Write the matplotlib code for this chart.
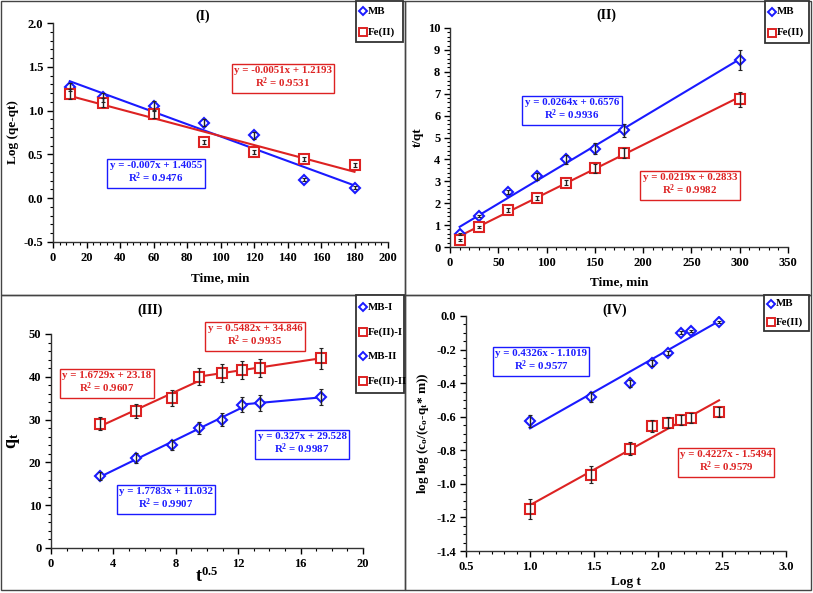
import matplotlib
matplotlib.use("Agg")
import matplotlib.pyplot as plt
from matplotlib.ticker import MultipleLocator, FormatStrFormatter
from matplotlib.lines import Line2D
from matplotlib.patches import Rectangle
import numpy as np

plt.rcParams['font.family'] = ['Liberation Serif', 'DejaVu Serif']
plt.rcParams['font.weight'] = 'bold'
plt.rcParams['axes.labelweight'] = 'bold'
plt.rcParams['mathtext.fontset'] = 'custom'
plt.rcParams['mathtext.rm'] = 'Liberation Serif:bold'
plt.rcParams['mathtext.it'] = 'Liberation Serif:bold'
plt.rcParams['mathtext.bf'] = 'Liberation Serif:bold'

BLUE = '#1a1aff'
RED = '#dd2222'

# ---------------- data ----------------
# Panel I: pseudo-first order
t1 = [10, 30, 60, 90, 120, 150, 180]
mb1 = [1.27, 1.15, 1.05, 0.86, 0.72, 0.21, 0.12]
mb1_err = [0.05, 0.05, 0.06, 0.04, 0.04, 0.015, 0.015]
fe1 = [1.19, 1.09, 0.96, 0.64, 0.53, 0.45, 0.38]
fe1_err = [0.06, 0.05, 0.05, 0.02, 0.02, 0.02, 0.02]
fit1_mb = (-0.007, 1.4055)
fit1_fe = (-0.0051, 1.2193)

# Panel II: pseudo-second order
t2 = [10, 30, 60, 90, 120, 150, 180, 300]
mb2 = [0.60, 1.42, 2.50, 3.22, 4.00, 4.48, 5.32, 8.55]
mb2_err = [0.05, 0.06, 0.08, 0.15, 0.2, 0.25, 0.3, 0.45]
fe2 = [0.33, 0.93, 1.70, 2.24, 2.93, 3.60, 4.30, 6.75]
fe2_err = [0.05, 0.05, 0.08, 0.08, 0.12, 0.2, 0.22, 0.35]
fit2_mb = (0.0264, 0.6576)
fit2_fe = (0.0219, 0.2833)

# Panel III: intra-particle diffusion
sqrt_t = [3.16, 5.48, 7.75, 9.49, 10.95, 12.25, 13.42, 17.32]
mb3 = [16.8, 21.0, 24.0, 28.0, 30.0, 33.5, 33.9, 35.2]
mb3_err = [1.0, 1.2, 1.2, 1.4, 1.5, 1.8, 1.8, 1.9]
fe3 = [29.0, 32.0, 35.0, 40.0, 41.0, 41.6, 42.1, 44.3]
fe3_err = [1.5, 1.6, 1.8, 2.0, 2.1, 2.1, 2.1, 2.4]
fit3_mb1 = (1.7783, 11.032)
fit3_mb2 = (0.327, 29.528)
fit3_fe1 = (1.6729, 23.18)
fit3_fe2 = (0.5482, 34.846)

# Panel IV: Bangham
logt = [1.0, 1.477, 1.778, 1.954, 2.079, 2.176, 2.255, 2.477]
mb4 = [-0.625, -0.48, -0.40, -0.28, -0.22, -0.10, -0.09, -0.035]
mb4_err = [0.035, 0.03, 0.02, 0.02, 0.012, 0.008, 0.008, 0.005]
fe4 = [-1.15, -0.945, -0.79, -0.655, -0.635, -0.62, -0.605, -0.57]
fe4_err = [0.06, 0.05, 0.04, 0.035, 0.035, 0.03, 0.03, 0.03]
fit4_mb = (0.4326, -1.1019)
fit4_fe = (0.4227, -1.5494)

W, H = 813, 593
fig = plt.figure(figsize=(W / 100, H / 100), dpi=100)

TICK_FS = 9
LAB_FS = 9.5
EQ_FS = 7.8
LEG_FS = 7.8
TITLE_FS = 10


def rect(l, t, r, b):
    return [l / W, 1 - b / H, (r - l) / W, (b - t) / H]


def fpos(x, y):
    return (x / W, 1 - y / H)


def style_ax(ax):
    for s in ['top', 'right']:
        ax.spines[s].set_visible(False)
    for s in ['left', 'bottom']:
        ax.spines[s].set_linewidth(1.0)
        ax.spines[s].set_color('#333333')
    ax.tick_params(which='major', length=4, width=1.0, labelsize=TICK_FS, direction='out', pad=3)
    ax.tick_params(which='minor', length=2.5, width=0.8, direction='out')
    for lab in ax.get_xticklabels() + ax.get_yticklabels():
        lab.set_fontweight('bold')


def points(ax, x, y, err, kind):
    if kind == 'mb':
        ax.plot(x, y, linestyle='none', marker='D', ms=5.5, mfc='white', mec=BLUE, mew=1.5, zorder=3)
    else:
        ax.plot(x, y, linestyle='none', marker='s', ms=7, mfc='white', mec=RED, mew=1.5, zorder=3)
    ax.errorbar(x, y, yerr=err, fmt='none', ecolor='#222222', elinewidth=1.0, capsize=1.5, capthick=0.8, zorder=4)


def fitline(ax, coef, x0, x1, color):
    xs = np.array([x0, x1])
    ax.plot(xs, coef[0] * xs + coef[1], color=color, lw=1.5, zorder=2)


def eqbox(x, y, text, color):
    fig.text(*fpos(x, y), text, color=color, fontsize=EQ_FS, fontweight='bold', ha='center', va='center',
             linespacing=1.1,
             bbox=dict(boxstyle='square,pad=0.22', fc='white', ec=color, lw=1.0))


def legend_box(l, t, r, b, entries):
    fig.add_artist(Rectangle((l / W, 1 - b / H), (r - l) / W, (b - t) / H, transform=fig.transFigure,
                             fc='white', ec='#333333', lw=1.3, zorder=5))
    n = len(entries)
    step = (b - t) / n
    for i, (lab, kind) in enumerate(entries):
        yy = t + step * (i + 0.5)
        if kind == 'mb':
            fig.add_artist(Line2D([(l + 7) / W], [1 - yy / H], marker='D', ms=4.2, mfc='white', mec=BLUE, mew=1.4,
                                  transform=fig.transFigure, zorder=6))
        else:
            fig.add_artist(Line2D([(l + 7) / W], [1 - yy / H], marker='s', ms=5.2, mfc='white', mec=RED, mew=1.4,
                                  transform=fig.transFigure, zorder=6))
        t_ = fig.text((l + 11.5) / W, 1 - yy / H, lab, fontsize=LEG_FS, fontweight='bold', ha='left', va='center')
        t_.set_zorder(6)


# panel borders
for (l, t, r, b) in [(1, 1, 405, 295), (405, 1, 811, 295), (1, 295, 405, 590), (405, 295, 811, 590)]:
    fig.add_artist(Rectangle((l / W, 1 - b / H), (r - l) / W, (b - t) / H, transform=fig.transFigure,
                             fill=False, ec='#444444', lw=1.0))

# ---------------- Panel I ----------------
ax1 = fig.add_axes(rect(53, 23, 388, 242))
points(ax1, t1, mb1, mb1_err, 'mb')
points(ax1, t1, fe1, fe1_err, 'fe')
fitline(ax1, fit1_mb, 10, 180, BLUE)
fitline(ax1, fit1_fe, 10, 180, RED)
ax1.set_xlim(0, 200)
ax1.set_ylim(-0.5, 2.0)
ax1.xaxis.set_major_locator(MultipleLocator(20))
ax1.xaxis.set_minor_locator(MultipleLocator(4))
ax1.yaxis.set_major_locator(MultipleLocator(0.5))
ax1.yaxis.set_minor_locator(MultipleLocator(0.1))
ax1.yaxis.set_major_formatter(FormatStrFormatter('%.1f'))
ax1.set_xlabel('Time, min', fontsize=LAB_FS, labelpad=6)
ax1.set_ylabel('Log (qe-qt)', fontsize=LAB_FS, labelpad=3)
style_ax(ax1)
fig.text(*fpos(203, 16), '(I)', fontsize=TITLE_FS, fontweight='bold', ha='center', va='center')
eqbox(283, 78, 'y = -0.0051x + 1.2193\nR$^{2}$ = 0.9531', RED)
eqbox(156, 173, 'y = -0.007x + 1.4055\nR$^{2}$ = 0.9476', BLUE)
legend_box(356, 1, 403, 42, [('MB', 'mb'), ('Fe(II)', 'fe')])

# ---------------- Panel II ----------------
ax2 = fig.add_axes(rect(450, 28, 788, 247))
points(ax2, t2, mb2, mb2_err, 'mb')
points(ax2, t2, fe2, fe2_err, 'fe')
fitline(ax2, fit2_mb, 10, 300, BLUE)
fitline(ax2, fit2_fe, 10, 300, RED)
ax2.set_xlim(0, 350)
ax2.set_ylim(0, 10)
ax2.xaxis.set_major_locator(MultipleLocator(50))
ax2.xaxis.set_minor_locator(MultipleLocator(10))
ax2.yaxis.set_major_locator(MultipleLocator(1))
ax2.yaxis.set_minor_locator(MultipleLocator(0.2))
ax2.set_xlabel('Time, min', fontsize=LAB_FS, labelpad=5)
ax2.set_ylabel('t/qt', fontsize=LAB_FS, labelpad=3)
style_ax(ax2)
fig.text(*fpos(606, 15), '(II)', fontsize=TITLE_FS, fontweight='bold', ha='center', va='center')
eqbox(572, 110, 'y = 0.0264x + 0.6576\nR$^{2}$ = 0.9936', BLUE)
eqbox(690, 185, 'y = 0.0219x + 0.2833\nR$^{2}$ = 0.9982', RED)
legend_box(765, 1, 809, 43, [('MB', 'mb'), ('Fe(II)', 'fe')])

# ---------------- Panel III ----------------
ax3 = fig.add_axes(rect(51, 334, 363, 548))
points(ax3, sqrt_t, mb3, mb3_err, 'mb')
points(ax3, sqrt_t, fe3, fe3_err, 'fe')
fitline(ax3, fit3_mb1, sqrt_t[0], sqrt_t[5], BLUE)
fitline(ax3, fit3_mb2, sqrt_t[5], sqrt_t[7], BLUE)
fitline(ax3, fit3_fe1, sqrt_t[0], sqrt_t[3], RED)
fitline(ax3, fit3_fe2, sqrt_t[3], sqrt_t[7], RED)
ax3.set_xlim(0, 20)
ax3.set_ylim(0, 50)
ax3.xaxis.set_major_locator(MultipleLocator(4))
ax3.xaxis.set_minor_locator(MultipleLocator(1))
ax3.yaxis.set_major_locator(MultipleLocator(10))
ax3.yaxis.set_minor_locator(MultipleLocator(2))
ax3.set_xlabel('t$^{0.5}$', fontsize=13, labelpad=-2)
ax3.set_ylabel('q$_{t}$', fontsize=13, labelpad=5)
style_ax(ax3)
fig.text(*fpos(150, 310), '(III)', fontsize=TITLE_FS, fontweight='bold', ha='center', va='center')
eqbox(255, 336, 'y = 0.5482x + 34.846\nR$^{2}$ = 0.9935', RED)
eqbox(107, 383, 'y = 1.6729x + 23.18\nR$^{2}$ = 0.9607', RED)
eqbox(302, 444, 'y = 0.327x + 29.528\nR$^{2}$ = 0.9987', BLUE)
eqbox(166, 499, 'y = 1.7783x + 11.032\nR$^{2}$ = 0.9907', BLUE)
legend_box(356, 295, 404, 393, [('MB-I', 'mb'), ('Fe(II)-I', 'fe'), ('MB-II', 'mb'), ('Fe(II)-II', 'fe')])

# ---------------- Panel IV ----------------
ax4 = fig.add_axes(rect(466, 316, 786, 551))
points(ax4, logt, mb4, mb4_err, 'mb')
points(ax4, logt, fe4, fe4_err, 'fe')
fitline(ax4, fit4_mb, logt[0], logt[-1], BLUE)
fitline(ax4, fit4_fe, logt[0], logt[-1], RED)
ax4.set_xlim(0.5, 3.0)
ax4.set_ylim(-1.4, 0.0)
ax4.xaxis.set_major_locator(MultipleLocator(0.5))
ax4.xaxis.set_minor_locator(MultipleLocator(0.1))
ax4.yaxis.set_major_locator(MultipleLocator(0.2))
ax4.yaxis.set_minor_locator(MultipleLocator(0.05))
ax4.xaxis.set_major_formatter(FormatStrFormatter('%.1f'))
ax4.yaxis.set_major_formatter(FormatStrFormatter('%.1f'))
ax4.set_xlabel('Log t', fontsize=LAB_FS, labelpad=2)
ax4.set_ylabel('log log (c$_{o}$/(c$_{o}$-q$_{t}$* m))', fontsize=LAB_FS, labelpad=4)
style_ax(ax4)
fig.text(*fpos(615, 310), '(IV)', fontsize=TITLE_FS, fontweight='bold', ha='center', va='center')
eqbox(541, 361, 'y = 0.4326x - 1.1019\nR$^{2}$ = 0.9577', BLUE)
eqbox(726, 462, 'y = 0.4227x - 1.5494\nR$^{2}$ = 0.9579', RED)
legend_box(764, 295, 809, 331, [('MB', 'mb'), ('Fe(II)', 'fe')])

fig.savefig('out.png', dpi=100)
